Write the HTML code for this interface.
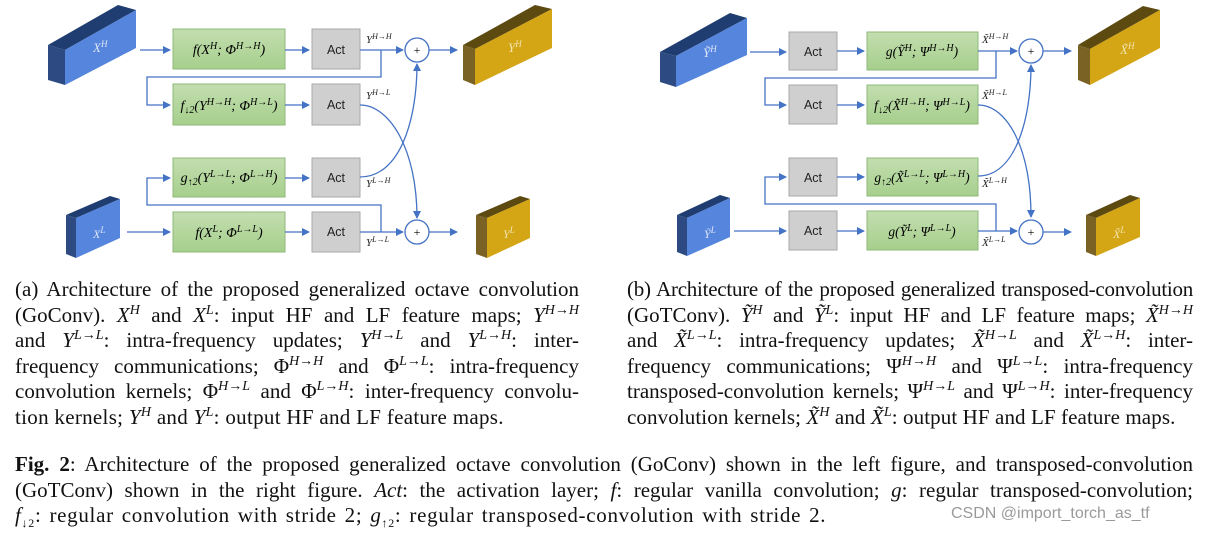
<!DOCTYPE html>
<html><head><meta charset="utf-8"><style>
body{margin:0;background:#fff;width:1208px;height:536px;overflow:hidden;position:relative;font-family:"Liberation Serif",serif;}
.cap{position:absolute;font-size:21px;line-height:25.6px;color:#111;}
.cap div{text-align:justify;text-align-last:justify;white-space:nowrap;height:25.6px}
.cap div.l{text-align-last:left;letter-spacing:0.3px}
sup{font-size:14px;line-height:0;font-style:italic;vertical-align:8px}
sub{font-size:12px;line-height:0}
svg text{font-family:"Liberation Serif",serif;}
svg text.act{font-family:"Liberation Sans",sans-serif;font-size:12.5px;fill:#222}
</style></head><body>
<svg width="1208" height="270" style="position:absolute;left:0;top:0">
<defs>
<marker id="a" markerWidth="8" markerHeight="8" refX="7" refY="4" orient="auto" markerUnits="userSpaceOnUse"><path d="M0,0 L8,4 L0,8z" fill="#4472c4"/></marker>
<linearGradient id="g" x1="0" y1="0" x2="0" y2="1"><stop offset="0" stop-color="#c3deb0"/><stop offset="1" stop-color="#a6cf8c"/></linearGradient>
</defs>
<g>
<polygon points="48,45 65,50 65,85 48,80" fill="#2d4b82"/>
<polygon points="48,45 118,5 136,10 65,50" fill="#1f3d70"/>
<polygon points="65,50 136,10 136,48 65,85" fill="#5585dc"/>
<text x="93" y="52" fill="#dde6f8" font-size="13" font-style="italic">X<tspan font-size="9" dy="-5">H</tspan></text>
<polygon points="66,215 76,218 76,258 66,254" fill="#2d4b82"/>
<polygon points="66,215 110,196 120,199 76,218" fill="#1f3d70"/>
<polygon points="76,218 120,199 120,238 76,258" fill="#5585dc"/>
<text x="93" y="238" fill="#dde6f8" font-size="12" font-style="italic">X<tspan font-size="9" dy="-5">L</tspan></text>
<polygon points="463,45 475,49 475,85 463,80" fill="#7a6224"/>
<polygon points="463,45 535,5 552,9 475,49" fill="#5c4a10"/>
<polygon points="475,49 552,9 552,48 475,85" fill="#d4a514"/>
<text x="508" y="52" fill="#f2e4b0" font-size="13" font-style="italic">Y<tspan font-size="9" dy="-5">H</tspan></text>
<polygon points="476,215 487,218 487,258 476,254" fill="#7a6224"/>
<polygon points="476,215 520,196 530,199 487,218" fill="#5c4a10"/>
<polygon points="487,218 530,199 530,238 487,258" fill="#d4a514"/>
<text x="503" y="238" fill="#f2e4b0" font-size="12" font-style="italic">Y<tspan font-size="9" dy="-5">L</tspan></text>
<g stroke="#8fb878" fill="url(#g)"><rect x="173" y="29" width="112" height="40"/><rect x="173" y="84" width="112" height="41"/><rect x="173" y="158" width="112" height="39"/><rect x="173" y="212" width="112" height="40"/></g>
<g stroke="#a8a8a8" fill="#cfcfcf"><rect x="312" y="29" width="48" height="40"/><rect x="312" y="84" width="48" height="41"/><rect x="312" y="158" width="48" height="39"/><rect x="312" y="212" width="48" height="40"/></g>
<g text-anchor="middle"><text class="act" x="336" y="54">Act</text><text class="act" x="336" y="109">Act</text><text class="act" x="336" y="182">Act</text><text class="act" x="336" y="236">Act</text></g>
<g font-size="14" text-anchor="middle" font-style="italic">
<text x="229" y="54">f(X<tspan font-size="10" dy="-5">H</tspan><tspan dy="5">; Φ</tspan><tspan font-size="10" dy="-5">H→H</tspan><tspan dy="5">)</tspan></text>
<text x="229" y="110">f<tspan font-size="10" dy="3">↓2</tspan><tspan dy="-3">(Y</tspan><tspan font-size="10" dy="-5">H→H</tspan><tspan dy="5">; Φ</tspan><tspan font-size="10" dy="-5">H→L</tspan><tspan dy="5">)</tspan></text>
<text x="229" y="182">g<tspan font-size="10" dy="3">↑2</tspan><tspan dy="-3">(Y</tspan><tspan font-size="10" dy="-5">L→L</tspan><tspan dy="5">; Φ</tspan><tspan font-size="10" dy="-5">L→H</tspan><tspan dy="5">)</tspan></text>
<text x="229" y="237">f(X<tspan font-size="10" dy="-5">L</tspan><tspan dy="5">; Φ</tspan><tspan font-size="10" dy="-5">L→L</tspan><tspan dy="5">)</tspan></text>
</g>
<g font-size="11" font-style="italic" fill="#222">
<text x="366" y="43">Y<tspan font-size="8" dy="-4">H→H</tspan></text>
<text x="366" y="99">Y<tspan font-size="8" dy="-4">H→L</tspan></text>
<text x="366" y="187">Y<tspan font-size="8" dy="-4">L→H</tspan></text>
<text x="366" y="246">Y<tspan font-size="8" dy="-4">L→L</tspan></text>
</g>
<g stroke="#4472c4" stroke-width="1.3" fill="none">
<line x1="140" y1="50" x2="170" y2="50" marker-end="url(#a)"/>
<line x1="285" y1="50" x2="309" y2="50" marker-end="url(#a)"/>
<line x1="360" y1="50" x2="403" y2="50" marker-end="url(#a)"/>
<polyline points="381,50 381,77 147,77 147,105 170,105" marker-end="url(#a)"/>
<line x1="285" y1="105" x2="309" y2="105" marker-end="url(#a)"/>
<line x1="285" y1="178" x2="309" y2="178" marker-end="url(#a)"/>
<line x1="127" y1="232" x2="170" y2="232" marker-end="url(#a)"/>
<line x1="285" y1="232" x2="309" y2="232" marker-end="url(#a)"/>
<line x1="360" y1="232" x2="403" y2="232" marker-end="url(#a)"/>
<polyline points="381,232 381,205 147,205 147,178 170,178" marker-end="url(#a)"/>
<path d="M360,105 C390,105 417,150 417,218" marker-end="url(#a)"/>
<path d="M360,177 C400,177 417,120 417,64" marker-end="url(#a)"/>
<line x1="429" y1="50" x2="457" y2="50" marker-end="url(#a)"/>
<line x1="429" y1="232" x2="457" y2="232" marker-end="url(#a)"/>
<circle cx="417" cy="50" r="12" fill="#fff"/><circle cx="417" cy="232" r="12" fill="#fff"/>
</g>
<text x="417" y="54" font-size="12" text-anchor="middle" font-family="Liberation Sans">+</text>
<text x="417" y="236" font-size="12" text-anchor="middle" font-family="Liberation Sans">+</text>
</g>
<g>
<polygon points="660,52 676,56 676,87 660,82" fill="#2d4b82"/>
<polygon points="660,52 730,13 747,18 676,56" fill="#1f3d70"/>
<polygon points="676,56 747,18 747,55 676,87" fill="#5585dc"/>
<text x="703" y="57" fill="#dde6f8" font-size="13" font-style="italic">Ỹ<tspan font-size="9" dy="-5">H</tspan></text>
<polygon points="677,215 687,218 687,256 677,252" fill="#2d4b82"/>
<polygon points="677,215 720,195 730,198 687,218" fill="#1f3d70"/>
<polygon points="687,218 730,198 730,237 687,256" fill="#5585dc"/>
<text x="704" y="238" fill="#dde6f8" font-size="12" font-style="italic">Ỹ<tspan font-size="9" dy="-5">L</tspan></text>
<polygon points="1078,45 1090,49 1090,85 1078,80" fill="#7a6224"/>
<polygon points="1078,45 1143,6 1160,10 1090,49" fill="#5c4a10"/>
<polygon points="1090,49 1160,10 1160,48 1090,85" fill="#d4a514"/>
<text x="1120" y="54" fill="#f2e4b0" font-size="13" font-style="italic">X̃<tspan font-size="9" dy="-5">H</tspan></text>
<polygon points="1086,215 1096,218 1096,256 1086,252" fill="#7a6224"/>
<polygon points="1086,215 1130,195 1140,198 1096,218" fill="#5c4a10"/>
<polygon points="1096,218 1140,198 1140,237 1096,256" fill="#d4a514"/>
<text x="1113" y="238" fill="#f2e4b0" font-size="12" font-style="italic">X̃<tspan font-size="9" dy="-5">L</tspan></text>
<g stroke="#a8a8a8" fill="#cfcfcf"><rect x="789" y="32" width="48" height="38"/><rect x="789" y="85" width="48" height="39"/><rect x="789" y="158" width="48" height="38"/><rect x="789" y="211" width="48" height="39"/></g>
<g stroke="#8fb878" fill="url(#g)"><rect x="867" y="32" width="111" height="38"/><rect x="867" y="85" width="111" height="39"/><rect x="867" y="158" width="111" height="38"/><rect x="867" y="211" width="111" height="39"/></g>
<g text-anchor="middle"><text class="act" x="813" y="56">Act</text><text class="act" x="813" y="109">Act</text><text class="act" x="813" y="182">Act</text><text class="act" x="813" y="235">Act</text></g>
<g font-size="13.5" text-anchor="middle" font-style="italic">
<text x="922" y="56">g(Ỹ<tspan font-size="10" dy="-5">H</tspan><tspan dy="5">; Ψ</tspan><tspan font-size="10" dy="-5">H→H</tspan><tspan dy="5">)</tspan></text>
<text x="922" y="110">f<tspan font-size="10" dy="3">↓2</tspan><tspan dy="-3">(X̃</tspan><tspan font-size="10" dy="-5">H→H</tspan><tspan dy="5">; Ψ</tspan><tspan font-size="10" dy="-5">H→L</tspan><tspan dy="5">)</tspan></text>
<text x="922" y="182">g<tspan font-size="10" dy="3">↑2</tspan><tspan dy="-3">(X̃</tspan><tspan font-size="10" dy="-5">L→L</tspan><tspan dy="5">; Ψ</tspan><tspan font-size="10" dy="-5">L→H</tspan><tspan dy="5">)</tspan></text>
<text x="922" y="236">g(Ỹ<tspan font-size="10" dy="-5">L</tspan><tspan dy="5">; Ψ</tspan><tspan font-size="10" dy="-5">L→L</tspan><tspan dy="5">)</tspan></text>
</g>
<g font-size="11" font-style="italic" fill="#222">
<text x="982" y="43">X̃<tspan font-size="8" dy="-4">H→H</tspan></text>
<text x="982" y="99">X̃<tspan font-size="8" dy="-4">H→L</tspan></text>
<text x="982" y="187">X̃<tspan font-size="8" dy="-4">L→H</tspan></text>
<text x="982" y="246">X̃<tspan font-size="8" dy="-4">L→L</tspan></text>
</g>
<g stroke="#4472c4" stroke-width="1.3" fill="none">
<line x1="750" y1="52" x2="786" y2="52" marker-end="url(#a)"/>
<line x1="837" y1="51" x2="864" y2="51" marker-end="url(#a)"/>
<line x1="978" y1="51" x2="1017" y2="51" marker-end="url(#a)"/>
<polyline points="996,51 996,78 765,78 765,105 786,105" marker-end="url(#a)"/>
<line x1="837" y1="105" x2="864" y2="105" marker-end="url(#a)"/>
<line x1="837" y1="177" x2="864" y2="177" marker-end="url(#a)"/>
<line x1="734" y1="231" x2="786" y2="231" marker-end="url(#a)"/>
<line x1="837" y1="231" x2="864" y2="231" marker-end="url(#a)"/>
<line x1="978" y1="231" x2="1017" y2="231" marker-end="url(#a)"/>
<polyline points="996,231 996,204 765,204 765,177 786,177" marker-end="url(#a)"/>
<path d="M978,105 C1008,105 1031,150 1031,217" marker-end="url(#a)"/>
<path d="M978,176 C1015,176 1031,120 1031,65" marker-end="url(#a)"/>
<line x1="1043" y1="51" x2="1071" y2="51" marker-end="url(#a)"/>
<line x1="1043" y1="232" x2="1071" y2="232" marker-end="url(#a)"/>
<circle cx="1031" cy="51" r="12" fill="#fff"/><circle cx="1031" cy="232" r="12" fill="#fff"/>
</g>
<text x="1031" y="55" font-size="12" text-anchor="middle" font-family="Liberation Sans">+</text>
<text x="1031" y="236" font-size="12" text-anchor="middle" font-family="Liberation Sans">+</text>
</g>
</svg>

<div class="cap" style="left:15px;top:277px;width:564px">
<div>(a) Architecture of the proposed generalized octave convolution</div>
<div>(GoConv). <i>X</i><sup>H</sup> and <i>X</i><sup>L</sup>: input HF and LF feature maps; <i>Y</i><sup>H→H</sup></div>
<div>and <i>Y</i><sup>L→L</sup>: intra-frequency updates; <i>Y</i><sup>H→L</sup> and <i>Y</i><sup>L→H</sup>: inter-</div>
<div>frequency communications; Φ<sup>H→H</sup> and Φ<sup>L→L</sup>: intra-frequency</div>
<div>convolution kernels; Φ<sup>H→L</sup> and Φ<sup>L→H</sup>: inter-frequency convolu-</div>
<div class="l">tion kernels; <i>Y</i><sup>H</sup> and <i>Y</i><sup>L</sup>: output HF and LF feature maps.</div>
</div>
<div class="cap" style="left:627px;top:277px;width:566px">
<div style="letter-spacing:-0.25px;word-spacing:-1px">(b) Architecture of the proposed generalized transposed-convolution</div>
<div>(GoTConv). <i>Ỹ</i><sup>H</sup> and <i>Ỹ</i><sup>L</sup>: input HF and LF feature maps; <i>X̃</i><sup>H→H</sup></div>
<div>and <i>X̃</i><sup>L→L</sup>: intra-frequency updates; <i>X̃</i><sup>H→L</sup> and <i>X̃</i><sup>L→H</sup>: inter-</div>
<div>frequency communications; Ψ<sup>H→H</sup> and Ψ<sup>L→L</sup>: intra-frequency</div>
<div>transposed-convolution kernels; Ψ<sup>H→L</sup> and Ψ<sup>L→H</sup>: inter-frequency</div>
<div class="l" style="letter-spacing:0.1px">convolution kernels; <i>X̃</i><sup>H</sup> and <i>X̃</i><sup>L</sup>: output HF and LF feature maps.</div>
</div>
<div class="cap" style="left:15px;top:451px;width:1178px;font-size:21px;line-height:26px">
<div><b>Fig. 2</b>: Architecture of the proposed generalized octave convolution (GoConv) shown in the left figure, and transposed-convolution</div>
<div>(GoTConv) shown in the right figure. <i>Act</i>: the activation layer; <i>f</i>: regular vanilla convolution; <i>g</i>: regular transposed-convolution;</div>
<div class="l" style="letter-spacing:0.7px;word-spacing:2px"><i>f</i><sub>↓2</sub>: regular convolution with stride 2; <i>g</i><sub>↑2</sub>: regular transposed-convolution with stride 2.</div>
</div>
<div style="position:absolute;left:951px;top:505px;font-family:'Liberation Sans',sans-serif;font-size:16px;color:#9a9a9a">CSDN @import_torch_as_tf</div>
</body></html>
